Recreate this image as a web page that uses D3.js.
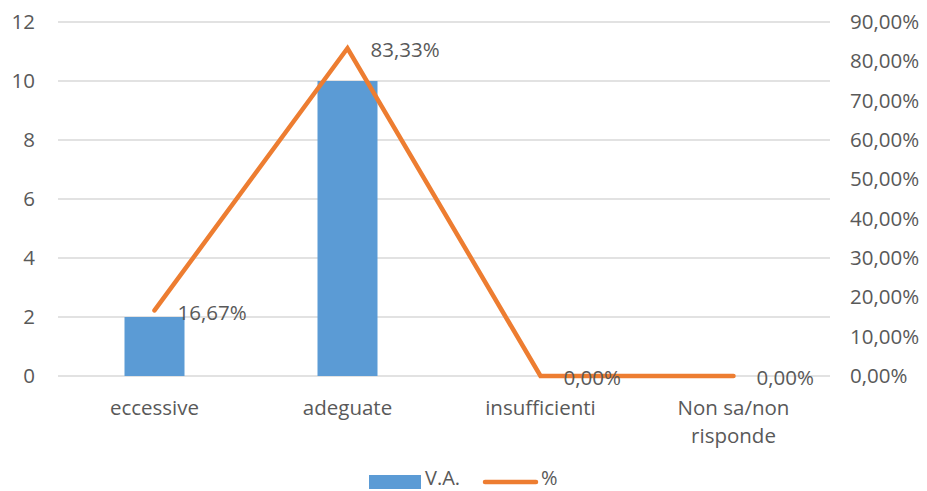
<!DOCTYPE html>
<html>
<head>
<meta charset="utf-8">
<script src="https://cdn.jsdelivr.net/npm/d3@7"></script>
<style>
  body { margin: 0; background: #fff; }
  text { font-family: 'Open Sans', sans-serif; fill: #595959; }
</style>
</head>
<body>
<div id="chart"></div>
<script>
// Dati del grafico
const categories = ['eccessive', 'adeguate', 'insufficienti', 'Non sa/non risponde'];
const vaValues = [2, 10, 0, 0];
const pctValues = [0.1667, 0.8333, 0, 0];
const leftTicks = [0, 2, 4, 6, 8, 10, 12];
const rightTicks = [0, 0.1, 0.2, 0.3, 0.4, 0.5, 0.6, 0.7, 0.8, 0.9];
const seriesNames = ['V.A.', '%'];

const W = 927, H = 491;
const plotL = 58, plotR = 830, plotT = 22, plotB = 376;
const barW = 60;
const fs = 20.5;
const blue = '#5b9bd5', orange = '#ed7d31';

const it = d3.formatLocale({ decimal: ',', thousands: '.', grouping: [3], currency: ['€', ''] });
const fmtPct = it.format('.2%');

const svg = d3.select('#chart').append('svg')
    .attr('width', W)
    .attr('height', H);

const x = d3.scalePoint().domain(categories).range([plotL, plotR]).padding(0.5);
const yL = d3.scaleLinear().domain([0, 12]).range([plotB, plotT]);
const yR = d3.scaleLinear().domain([0, 0.9]).range([plotB, plotT]);

// griglia
svg.append('g')
    .selectAll('line')
    .data(leftTicks)
    .join('line')
    .attr('x1', plotL).attr('x2', plotR)
    .attr('y1', d => yL(d)).attr('y2', d => yL(d))
    .attr('stroke', '#d9d9d9')
    .attr('stroke-width', 1.3);

// asse sinistro
const axL = svg.append('g')
    .attr('transform', `translate(${plotL - 23},0)`)
    .call(d3.axisLeft(yL).tickValues(leftTicks).tickSize(0).tickPadding(0));
axL.select('.domain').remove();
axL.selectAll('text').attr('font-size', fs).attr('fill', '#595959')
    .style('font-family', "'Open Sans', sans-serif");

// asse destro
const axR = svg.append('g')
    .attr('transform', `translate(${plotR + 20},0)`)
    .call(d3.axisRight(yR).tickValues(rightTicks).tickFormat(fmtPct).tickSize(0).tickPadding(0));
axR.select('.domain').remove();
axR.selectAll('text').attr('font-size', fs).attr('fill', '#595959')
    .style('font-family', "'Open Sans', sans-serif");

// barre
svg.append('g')
    .selectAll('rect')
    .data(vaValues)
    .join('rect')
    .attr('x', (d, i) => x(categories[i]) - barW / 2)
    .attr('y', d => yL(d))
    .attr('width', barW)
    .attr('height', d => plotB - yL(d))
    .attr('fill', blue);

// linea
const line = d3.line()
    .x((d, i) => x(categories[i]))
    .y(d => yR(d));
svg.append('path')
    .datum(pctValues)
    .attr('d', line)
    .attr('fill', 'none')
    .attr('stroke', orange)
    .attr('stroke-width', 4.5)
    .attr('stroke-linejoin', 'miter')
    .attr('stroke-linecap', 'round');

// etichette dati
svg.append('g')
    .selectAll('text')
    .data(pctValues)
    .join('text')
    .attr('x', (d, i) => x(categories[i]) + 23)
    .attr('y', d => yR(d) + 2)
    .attr('dy', '0.35em')
    .attr('font-size', fs)
    .text(d => fmtPct(d));

// etichette categorie
const catG = svg.append('g');
categories.forEach(c => {
    const words = c === 'Non sa/non risponde' ? ['Non sa/non', 'risponde'] : [c];
    const t = catG.append('text')
        .attr('x', x(c))
        .attr('y', 415)
        .attr('text-anchor', 'middle')
        .attr('font-size', fs);
    words.forEach((w, j) => {
        t.append('tspan').attr('x', x(c)).attr('dy', j === 0 ? 0 : 28).text(w);
    });
});

// legenda
const leg = svg.append('g');
leg.append('rect').attr('x', 369).attr('y', 475).attr('width', 52).attr('height', 14).attr('fill', blue);
leg.append('text').attr('x', 425).attr('y', 485).attr('font-size', 20).text(seriesNames[0]);
leg.append('line').attr('x1', 485).attr('x2', 536).attr('y1', 482).attr('y2', 482)
    .attr('stroke', orange).attr('stroke-width', 4.5).attr('stroke-linecap', 'round');
leg.append('text').attr('x', 541).attr('y', 485).attr('font-size', 20).text(seriesNames[1]);
</script>
</body>
</html>
